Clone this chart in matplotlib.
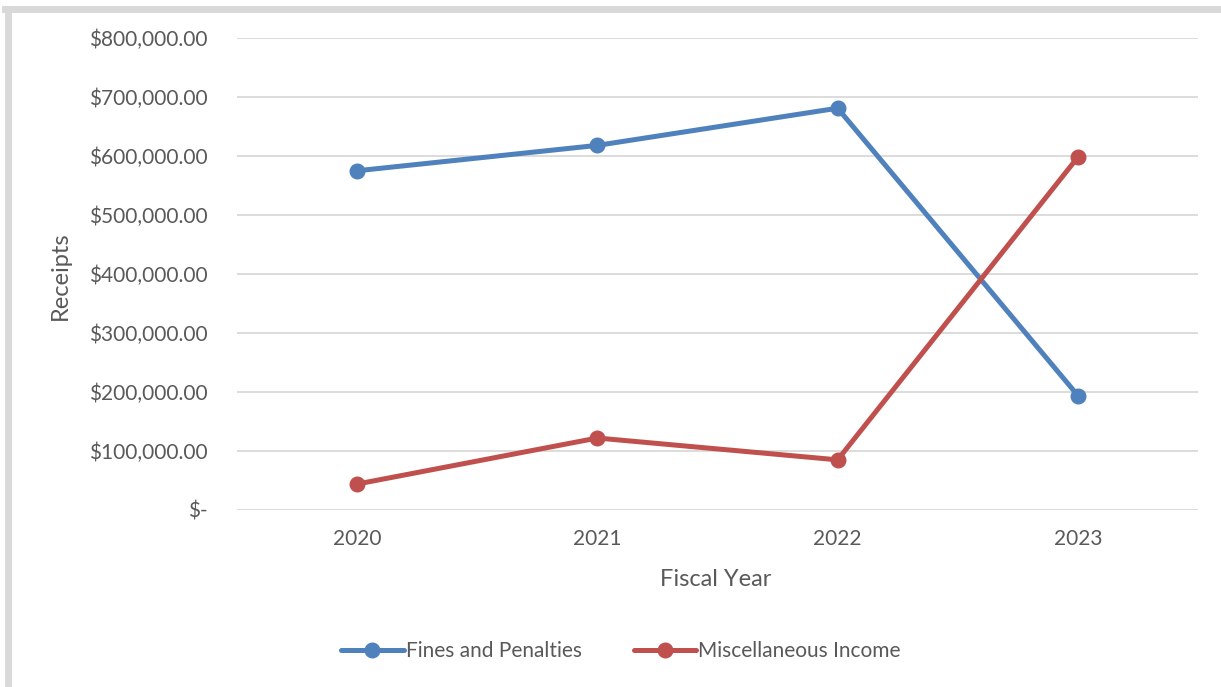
import matplotlib.pyplot as plt
from matplotlib.lines import Line2D
from matplotlib.ticker import FuncFormatter

years = ['2020', '2021', '2022', '2023']
fines = [575000, 618000, 681000, 194000]
misc = [44000, 122000, 85000, 598000]

plt.rcParams['font.family'] = ['Lato', 'DejaVu Sans']

fig = plt.figure(figsize=(12.21, 6.87), dpi=100)
ax = fig.add_axes([237/1221, 1-510/687, (1198-237)/1221, (510-38)/687])

x = range(len(years))
ax.plot(x, fines, color='#4F81BD', lw=3.6, marker='o', ms=10.5, label='Fines and Penalties',
        solid_capstyle='round')
ax.plot(x, misc, color='#C0504D', lw=3.6, marker='o', ms=10.5, label='Miscellaneous Income',
        solid_capstyle='round')

ax.set_xlim(-0.5, 3.5)
ax.set_ylim(0, 800000)
ax.set_yticks(range(0, 800001, 100000))
ax.set_xticks(list(x))
ax.set_xticklabels(years)

def money(v, pos):
    if v == 0:
        return '$-'
    return '${:,.2f}'.format(v)

ax.yaxis.set_major_formatter(FuncFormatter(money))
ax.grid(axis='y', color='#D9D9D9', lw=1.3)
ax.set_axisbelow(True)
for s in ax.spines.values():
    s.set_visible(False)
ax.tick_params(length=0, labelsize=15, colors='#595959')
ax.tick_params(axis='y', pad=21)
ax.tick_params(axis='x', pad=14)

fig.text(60/1221, 1-276/687, 'Receipts', rotation=90, ha='center', va='center',
         fontsize=17, color='#595959')
fig.text(716/1221, 1-580/687, 'Fiscal Year', ha='center', va='center',
         fontsize=17, color='#595959')

fig.legend(loc='center', bbox_to_anchor=(621/1221, 1-651/687), ncol=2, frameon=False,
           fontsize=15, labelcolor='#595959', handlelength=3, handletextpad=0.1,
           columnspacing=2.5)

# light grey border on top and left
fig.add_artist(Line2D([8/1221, 8/1221], [0, 1-9/687], color='#D9D9D9', lw=5,
                      transform=fig.transFigure))
fig.add_artist(Line2D([5/1221, 1], [1-9/687, 1-9/687], color='#D9D9D9', lw=5,
                      transform=fig.transFigure))

fig.savefig('out.png', dpi=100)
